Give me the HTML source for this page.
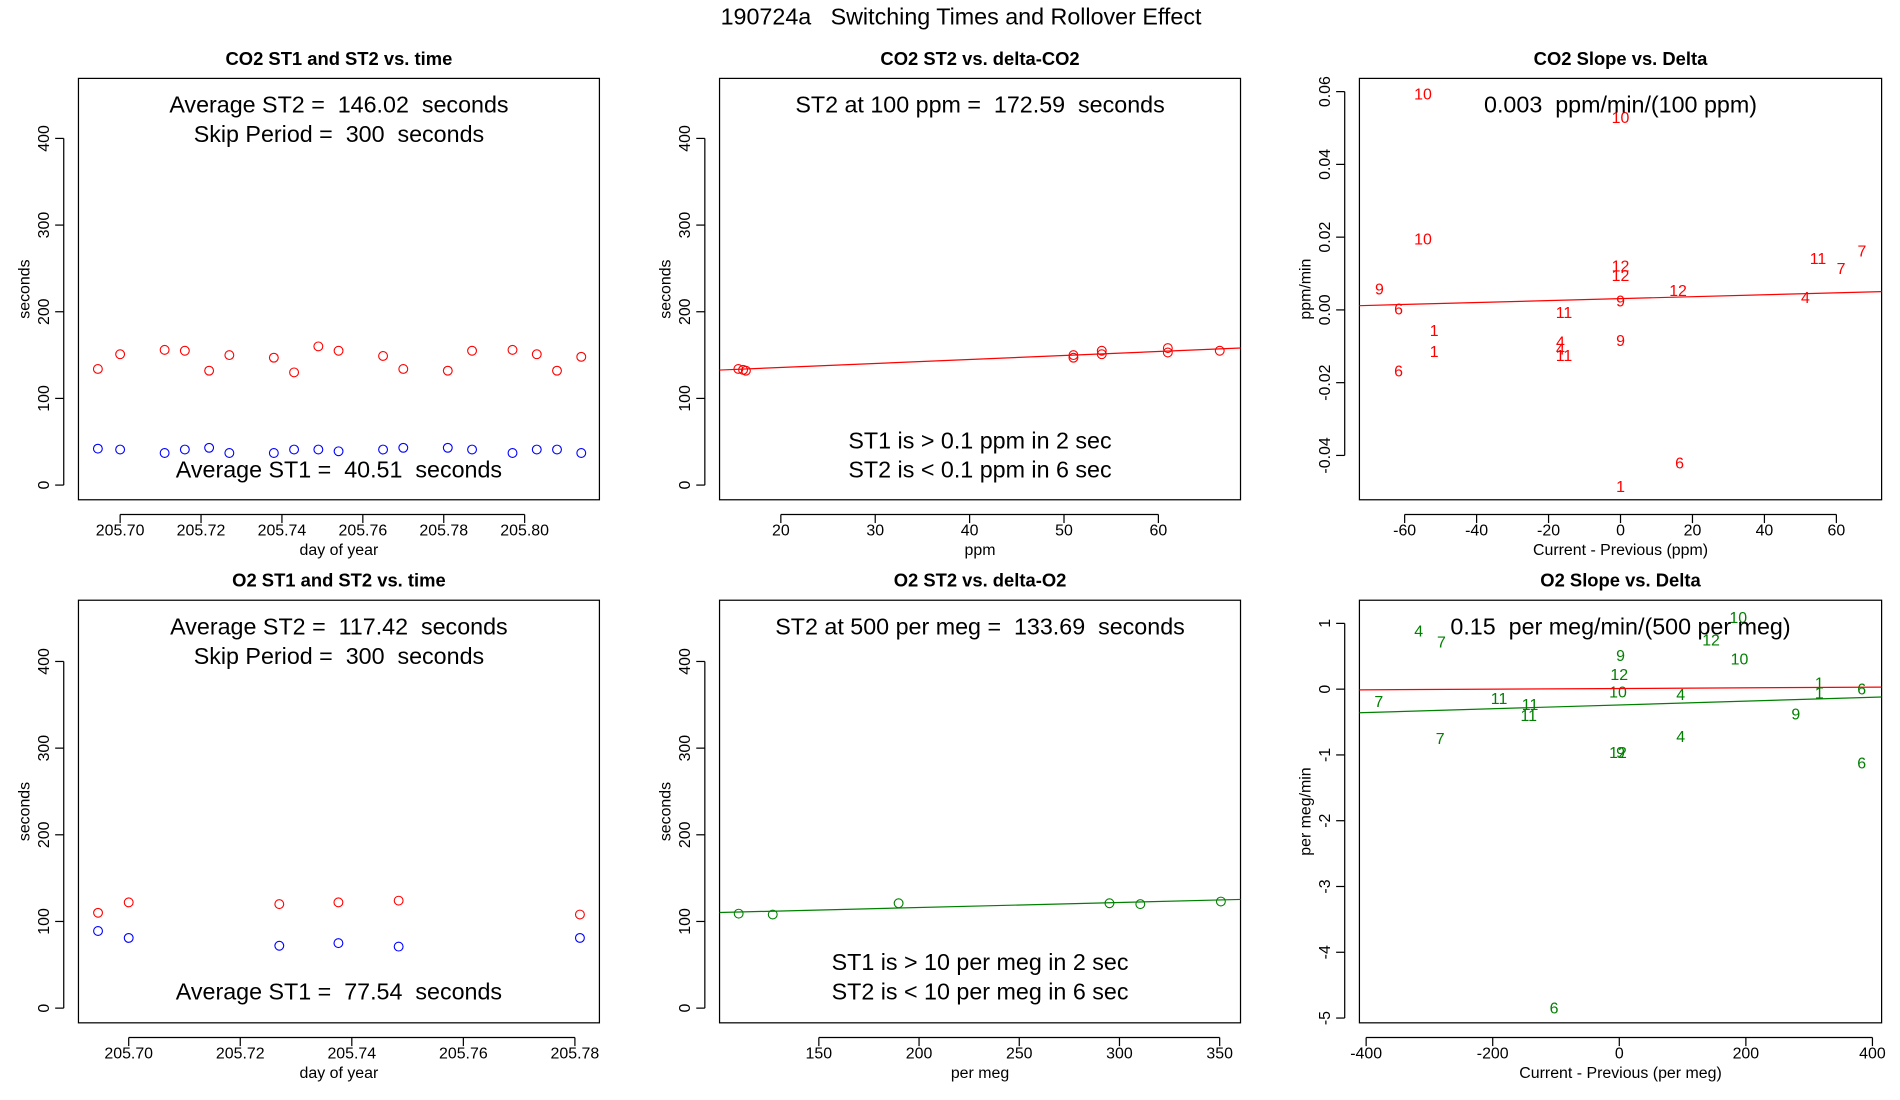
<!DOCTYPE html>
<html><head><meta charset="utf-8"><style>
html,body{margin:0;padding:0;background:#fff}
svg{display:block}
text{font-family:"Liberation Sans",sans-serif;white-space:pre}
</style></head><body>
<svg id="chart" width="1900" height="1100" viewBox="0 0 1550 898" preserveAspectRatio="none" xmlns="http://www.w3.org/2000/svg">
<rect width="1550" height="898" fill="#fff"/>
<text x="784" y="20" font-size="19" text-anchor="middle" xml:space="preserve">190724a   Switching Times and Rollover Effect</text>
</svg>
<script>
// ---- data ----
const co2Days = [205.6945,205.700,205.711,205.716,205.722,205.727,205.738,205.743,205.749,205.754,205.765,205.770,205.781,205.787,205.797,205.803,205.808,205.814];
const co2St2 = [134,151,156,155,132,150,147,130,160,155,149,134,132,155,156,151,132,148];
const co2St1 = [42,41,37,41,43,37,37,41,41,39,41,43,43,41,37,41,41,37];
const co2Delta = [15.5,16,16.3,51,51,54,54,61,61,66.5];
const co2DeltaSt2 = [134,133,132,150,147,155,151,158,153,155];
const co2Fit = [126.5,0.461];
const co2SlopeX = [-54.9,0,-54.9,-67,-61.7,-51.8,-51.8,-61.7,0,0,0,0,-15.7,-16.7,-16.7,-15.7,16,51.4,54.9,61.3,67.1,16.4,0];
const co2SlopeY = [0.0593,0.0529,0.0195,0.0057,0.0003,-0.0057,-0.0114,-0.0168,0.0121,0.0094,0.0024,-0.0084,-0.0007,-0.0088,-0.0108,-0.0125,0.0054,0.0034,0.0141,0.0114,0.0162,-0.0421,-0.0485];
const co2SlopeLbl = ["10","10","10","9","6","1","1","6","12","12","9","9","11","4","4","11","12","4","11","7","7","6","1"];
const co2SlopeFit = [0.0031,0.0000267];
const o2Days = [205.6945,205.700,205.727,205.7376,205.7484,205.7809];
const o2St2 = [110,122,120,122,124,108];
const o2St1 = [89,81,72,75,71,81];
const o2Delta = [110,127,189.8,295,310.4,350.6];
const o2DeltaSt2 = [109,108,121,121,120,123];
const o2Fit = [104.5,0.058];
const o2SlopeX = [-317,-281,188,145,2,0,190,-2,-380,-190,-141,-143,97,316,316,383,279,-283,97,-2,2,383,-103];
const o2SlopeY = [0.885,0.72,1.09,0.75,0.51,0.22,0.46,-0.04,-0.19,-0.14,-0.23,-0.40,-0.08,0.09,-0.06,0.0,-0.38,-0.75,-0.72,-0.96,-0.96,-1.12,-4.85];
const o2SlopeLbl = ["4","7","10","12","9","12","10","10","7","11","11","11","4","1","1","6","9","7","4","12","9","6","6"];
const o2SlopeFitRed = [0.01,0.00005];
const o2SlopeFitGreen = [-0.24,0.00029];
const secTicks = [0,100,200,300,400];
// ---- drawing ----
const svg = document.getElementById('chart');
const NS = 'http://www.w3.org/2000/svg';
function mk(tag, attrs, parent, txt){
  const e = document.createElementNS(NS, tag);
  for (const k in attrs) e.setAttribute(k, attrs[k]);
  if (txt !== undefined) e.textContent = txt;
  (parent||svg).appendChild(e); return e;
}
function panel(o){
  const g = mk('g', {});
  
  
  const sx = v => o.x0p + (v - o.x0v) * o.xs;
  const sy = v => o.y0p - (v - o.y0v) * o.ys;
  const t = mk('text', {x:(o.L+o.R)/2, y:o.T-11, 'font-size':15, 'font-weight':'bold', 'text-anchor':'middle'}, g, o.title);
  
  
  const box = mk('rect', {x:o.L, y:o.T, width:o.R-o.L, height:o.B-o.T, fill:'none', stroke:'#000', 'stroke-width':1}, g);
  
  
  const xa = mk('g', {}, g);
  
  
  const xt0 = sx(o.xticks[0]), xt1 = sx(o.xticks[o.xticks.length-1]);
  mk('line', {x1:xt0, x2:xt1, y1:o.B+12, y2:o.B+12, stroke:'#000'}, xa);
  o.xticks.forEach((v,i)=>{
    const x = sx(v);
    mk('line', {x1:x, x2:x, y1:o.B+12, y2:o.B+19, stroke:'#000'}, xa);
    const tl = mk('text', {x:x, y:o.B+29, 'font-size':13, 'text-anchor':'middle'}, xa, o.xlabels[i]);
    
    
  });
  const xl = mk('text', {x:(o.L+o.R)/2, y:o.B+45, 'font-size':13, 'text-anchor':'middle'}, g, o.xtitle);
  
  
  const ya = mk('g', {}, g);
  
  
  const yt0 = sy(o.yticks[0]), yt1 = sy(o.yticks[o.yticks.length-1]);
  mk('line', {x1:o.L-12, x2:o.L-12, y1:yt0, y2:yt1, stroke:'#000'}, ya);
  o.yticks.forEach((v,i)=>{
    const y = sy(v);
    mk('line', {x1:o.L-19, x2:o.L-12, y1:y, y2:y, stroke:'#000'}, ya);
    const tl = mk('text', {x:o.L-24, y:y, 'font-size':13, 'text-anchor':'middle', transform:`rotate(-90 ${o.L-24} ${y})`}, ya, o.ylabels[i]);
    
    
  });
  const yl = mk('text', {x:o.L-40, y:(o.T+o.B)/2, 'font-size':13, 'text-anchor':'middle', transform:`rotate(-90 ${o.L-40} ${(o.T+o.B)/2})`}, g, o.ytitle);
  
  
  const clipId = 'c' + Math.round(o.L) + '_' + Math.round(o.T);
  const cp = mk('clipPath', {id:clipId}, g);
  mk('rect', {x:o.L, y:o.T, width:o.R-o.L, height:o.B-o.T}, cp);
  const pg = mk('g', {'clip-path':`url(#${clipId})`}, g);
  
  
  (o.points||[]).forEach(s=>{
    s.xs.forEach((xv,i)=>{
      const c = mk('circle', {cx:sx(xv), cy:sy(s.ys[i]), r:3.6, fill:'none', stroke:s.color, 'stroke-width':0.9}, pg);
      
      
    });
  });
  (o.labels||[]).forEach(s=>{
    s.xs.forEach((xv,i)=>{
      const c = mk('text', {x:sx(xv), y:sy(s.ys[i])+4.5, 'font-size':13, fill:s.color, 'text-anchor':'middle'}, pg, s.lbl[i]);
      
      
    });
  });
  (o.lines||[]).forEach(f=>{
    const xa0 = o.x0v + (o.L - o.x0p)/o.xs, xa1 = o.x0v + (o.R - o.x0p)/o.xs;
    const l = mk('line', {x1:o.L, x2:o.R, y1:sy(f.fit[0]+f.fit[1]*xa0), y2:sy(f.fit[0]+f.fit[1]*xa1), stroke:f.color, 'stroke-width':1}, pg);
    
    
  });
  (o.notes||[]).forEach(n=>{
    const tx = mk('text', {x:(o.L+o.R)/2, y:n[1], 'font-size':19, 'text-anchor':'middle', 'xml:space':'preserve'}, g, n[0]);
    
    
  });
}
const secL = secTicks.map(String);
panel({name:'co2-time-panel', title:'CO2 ST1 and ST2 vs. time', L:64,R:489,T:64,B:408,
  x0v:205.70, x0p:98, xs:3300, y0v:0, y0p:396, ys:0.7075,
  xticks:[205.70,205.72,205.74,205.76,205.78,205.80], xlabels:['205.70','205.72','205.74','205.76','205.78','205.80'], xtitle:'day of year',
  yticks:secTicks, ylabels:secL, ytitle:'seconds',
  points:[{xs:co2Days, ys:co2St2, color:'#ff0000', name:'st2-point'},{xs:co2Days, ys:co2St1, color:'#0000ff', name:'st1-point'}],
  notes:[['Average ST2 =  146.02  seconds',92],['Skip Period =  300  seconds',116],['Average ST1 =  40.51  seconds',390]]});
panel({name:'co2-delta-panel', title:'CO2 ST2 vs. delta-CO2', L:587,R:1012,T:64,B:408,
  x0v:20, x0p:637, xs:7.7, y0v:0, y0p:396, ys:0.7075,
  xticks:[20,30,40,50,60], xlabels:['20','30','40','50','60'], xtitle:'ppm',
  yticks:secTicks, ylabels:secL, ytitle:'seconds',
  points:[{xs:co2Delta, ys:co2DeltaSt2, color:'#ff0000', name:'st2-point'}],
  lines:[{fit:co2Fit, color:'#ff0000'}],
  notes:[['ST2 at 100 ppm =  172.59  seconds',92],['ST1 is > 0.1 ppm in 2 sec',366],['ST2 is < 0.1 ppm in 6 sec',390]]});
panel({name:'co2-slope-panel', title:'CO2 Slope vs. Delta', L:1109,R:1535,T:64,B:408,
  x0v:0, x0p:1322, xs:2.935, y0v:0, y0p:253, ys:2970,
  xticks:[-60,-40,-20,0,20,40,60], xlabels:['-60','-40','-20','0','20','40','60'], xtitle:'Current - Previous (ppm)',
  yticks:[-0.04,-0.02,0,0.02,0.04,0.06], ylabels:['-0.04','-0.02','0.00','0.02','0.04','0.06'], ytitle:'ppm/min',
  labels:[{xs:co2SlopeX, ys:co2SlopeY, lbl:co2SlopeLbl, color:'#ff0000'}],
  lines:[{fit:co2SlopeFit, color:'#ff0000'}],
  notes:[['0.003  ppm/min/(100 ppm)',92]]});
panel({name:'o2-time-panel', title:'O2 ST1 and ST2 vs. time', L:64,R:489,T:490,B:835,
  x0v:205.70, x0p:105, xs:4550, y0v:0, y0p:823, ys:0.7075,
  xticks:[205.70,205.72,205.74,205.76,205.78], xlabels:['205.70','205.72','205.74','205.76','205.78'], xtitle:'day of year',
  yticks:secTicks, ylabels:secL, ytitle:'seconds',
  points:[{xs:o2Days, ys:o2St2, color:'#ff0000', name:'st2-point'},{xs:o2Days, ys:o2St1, color:'#0000ff', name:'st1-point'}],
  notes:[['Average ST2 =  117.42  seconds',518],['Skip Period =  300  seconds',542],['Average ST1 =  77.54  seconds',816]]});
panel({name:'o2-delta-panel', title:'O2 ST2 vs. delta-O2', L:587,R:1012,T:490,B:835,
  x0v:150, x0p:668, xs:1.635, y0v:0, y0p:823, ys:0.7075,
  xticks:[150,200,250,300,350], xlabels:['150','200','250','300','350'], xtitle:'per meg',
  yticks:secTicks, ylabels:secL, ytitle:'seconds',
  points:[{xs:o2Delta, ys:o2DeltaSt2, color:'#008000', name:'st2-point'}],
  lines:[{fit:o2Fit, color:'#008000'}],
  notes:[['ST2 at 500 per meg =  133.69  seconds',518],['ST1 is > 10 per meg in 2 sec',792],['ST2 is < 10 per meg in 6 sec',816]]});
panel({name:'o2-slope-panel', title:'O2 Slope vs. Delta', L:1109,R:1535,T:490,B:835,
  x0v:0, x0p:1321, xs:0.5163, y0v:0, y0p:562.6, ys:53.7,
  xticks:[-400,-200,0,200,400], xlabels:['-400','-200','0','200','400'], xtitle:'Current - Previous (per meg)',
  yticks:[-5,-4,-3,-2,-1,0,1], ylabels:['-5','-4','-3','-2','-1','0','1'], ytitle:'per meg/min',
  labels:[{xs:o2SlopeX, ys:o2SlopeY, lbl:o2SlopeLbl, color:'#008000'}],
  lines:[{fit:o2SlopeFitRed, color:'#ff0000'},{fit:o2SlopeFitGreen, color:'#008000'}],
  notes:[['0.15  per meg/min/(500 per meg)',518]]});
</script>
</body></html>
